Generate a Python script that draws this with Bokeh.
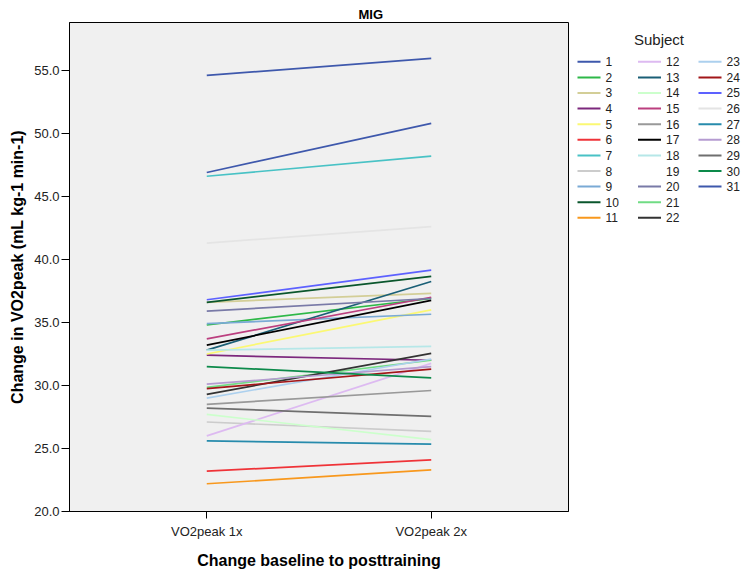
import math
from bokeh.plotting import figure
from bokeh.models import FactorRange, Range1d, FixedTicker, Title
from bokeh.layouts import row
from bokeh.embed import file_html
from bokeh.resources import INLINE
from bokeh.core.properties import value

nan = float("nan")

categories = ["VO2peak 1x", "VO2peak 2x"]
subjects = [str(i) for i in range(1, 32)]
pre = [46.9, 34.8, 36.6, 32.4, 32.5, 23.2, 46.6, 27.1, 34.9, 36.6,
       22.2, 26.0, 32.8, 27.7, 33.7, 28.5, 33.2, 32.8, nan, 35.9,
       29.85, 29.3, 29.0, 29.75, 36.8, 41.3, 25.6, 30.1, 28.2, 31.5, 54.6]
post = [50.8, 36.9, 37.3, 32.0, 36.0, 24.1, 48.2, 26.35, 35.65, 38.65,
        23.3, 31.75, 38.25, 25.7, 37.0, 29.6, 36.75, 33.1, nan, 36.9,
        32.0, 32.55, 32.1, 31.3, 39.15, 42.6, 25.35, 31.5, 27.55, 30.6, 55.95]
colors = ["#3E58AC", "#2EB848", "#D3CE97", "#7C287D", "#FBF873", "#EF3338",
          "#48C2C5", "#CCCCCC", "#7AAAD5", "#0A562C", "#F8981D", "#DDBAF1",
          "#1A5F76", "#CCFFCC", "#BB3F7F", "#999999", "#000000", "#B6E7E8",
          "#FFFFFF", "#797AA7", "#70DC84", "#333333", "#ACD0EE", "#A21619",
          "#5D61FF", "#E4E4E4", "#278BAC", "#B59BD1", "#6F6F6F", "#0C8A4A",
          "#3E58AC"]
y_ticks = [20, 25, 30, 35, 40, 45, 50, 55]

FONT = "Liberation Sans"

p = figure(width=570, height=571, output_backend="svg", toolbar_location=None,
           x_range=FactorRange(factors=categories, range_padding=0.1116,
                               range_padding_units="absolute"),
           y_range=Range1d(20, 58.8),
           min_border_left=69, min_border_right=2, min_border_top=22,
           min_border_bottom=55)
p.background_fill_color = "#F0F0F0"
p.border_fill_color = "white"
p.outline_line_color = "black"
p.outline_line_width = 1
p.grid.visible = False

for i in range(len(subjects)):
    if math.isnan(pre[i]):
        continue
    p.line(categories, [pre[i], post[i]], line_color=colors[i], line_width=1.7)

p.title = Title(text="MIG", align="left", offset=289, standoff=1,
                text_font=FONT, text_font_size="13px", text_font_style="bold",
                text_color="black")

p.yaxis.ticker = FixedTicker(ticks=y_ticks)
p.yaxis.major_label_overrides = {t: f"{t:.1f}" for t in y_ticks}
p.yaxis.minor_tick_line_color = None
p.yaxis.major_tick_out = 8
p.yaxis.major_tick_in = 0
p.yaxis.major_label_standoff = 2
p.yaxis.axis_label = "Change in VO2peak (mL kg-1 min-1)"
p.yaxis.axis_label_standoff = 5

p.xaxis.major_tick_out = 7
p.xaxis.major_tick_in = 0
p.xaxis.major_label_standoff = 5
p.xaxis.axis_label = "Change baseline to posttraining"
p.xaxis.axis_label_standoff = 10

for ax in (p.xaxis, p.yaxis):
    ax.axis_line_color = "black"
    ax.major_tick_line_color = "black"
    ax.major_label_text_font = FONT
    ax.major_label_text_font_size = "13px"
    ax.major_label_text_color = "#222222"
    ax.axis_label_text_font = FONT
    ax.axis_label_text_font_size = "16px"
    ax.axis_label_text_font_style = "bold"
    ax.axis_label_text_color = "black"

# Legend panel (its frame is aligned with the main frame: page y 22..516)
leg = figure(width=174, height=571, output_backend="svg", toolbar_location=None,
             x_range=Range1d(0, 174), y_range=Range1d(516, 22),
             min_border=0, min_border_left=0, min_border_right=0,
             min_border_top=0, min_border_bottom=0,
             x_axis_location=None, y_axis_location=None)
leg.grid.visible = False
leg.outline_line_color = None
leg.background_fill_color = "white"
leg.border_fill_color = "white"

n_rows = 11
col_x0 = 7
col_w = 60.5
row_y0 = 61.7
row_h = 15.76
x0s, x1s, ys, tx, labels, cols = [], [], [], [], [], []
for i, s in enumerate(subjects):
    c, r = divmod(i, n_rows)
    x = col_x0 + c * col_w
    y = row_y0 + r * row_h
    x0s.append(x)
    x1s.append(x + 23)
    ys.append(y)
    tx.append(x + 28)
    labels.append(s)
    cols.append(colors[i])
leg.segment(x0=x0s, y0=ys, x1=x1s, y1=ys, line_color=cols, line_width=2)
leg.text(x=tx, y=ys, text=labels, text_font=value(FONT), text_font_size="12px",
         text_baseline="middle", text_align="left", text_color="#222222")
leg.text(x=[88.5], y=[39.5], text=["Subject"], text_font=value(FONT),
         text_font_size="15px", text_baseline="middle", text_align="center",
         text_color="#222222")

layout = row(p, leg, spacing=0)
open("out.html", "w").write(file_html(layout, INLINE))
